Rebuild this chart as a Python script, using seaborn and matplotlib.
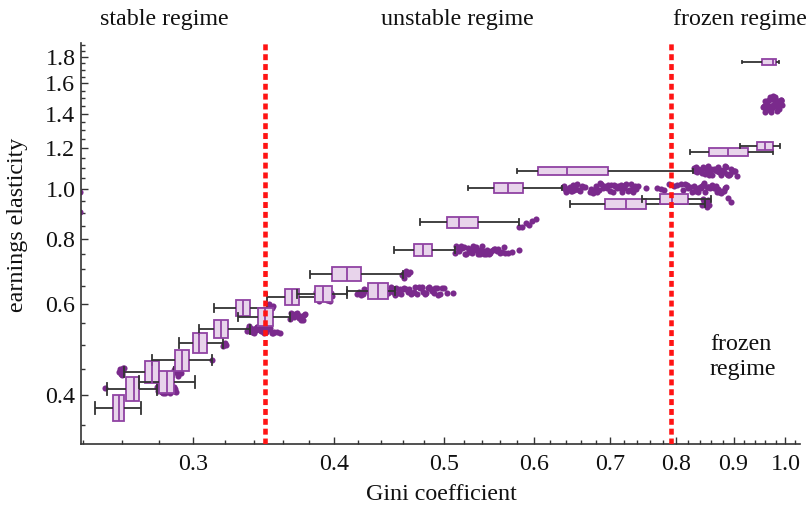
import numpy as np
import pandas as pd
import matplotlib
matplotlib.use("Agg")
import matplotlib.pyplot as plt
import seaborn as sns
from matplotlib.ticker import FixedLocator, FixedFormatter, NullFormatter

# ---------------- data ----------------
# box groups: earnings elasticity level and Gini box statistics
box_elasticity = [0.3775, 0.411, 0.443, 0.4238, 0.467, 0.504, 0.5365, 0.589, 0.566,
                  0.619, 0.627, 0.6354, 0.685, 0.7625, 0.863, 1.005, 1.084, 0.936,
                  0.957, 1.18, 1.211, 1.76]
box_whislo = [0.246, 0.252, 0.261, 0.269, 0.276, 0.2917, 0.3037, 0.3131, 0.3287,
              0.3487, 0.3706, 0.410, 0.3806, 0.4514, 0.4759, 0.5246, 0.5795, 0.6454,
              0.7471, 0.8245, 0.912, 0.9157]
box_q1 = [0.255, 0.262, 0.272, 0.280, 0.2892, 0.300, 0.3131, 0.3274, 0.3424,
          0.3617, 0.3844, 0.4282, 0.398, 0.4701, 0.5027, 0.553, 0.6047, 0.693,
          0.775, 0.8561, 0.9441, 0.9538]
box_median = [0.258, 0.266, 0.276, 0.2846, 0.2935, 0.3037, 0.3176, 0.3321, 0.3473,
              0.3669, 0.3907, 0.4369, 0.4103, 0.4788, 0.5151, 0.5689, 0.6415, 0.7233,
              0.7941, 0.8898, 0.9597, 0.9754]
box_q3 = [0.261, 0.269, 0.280, 0.289, 0.2976, 0.3087, 0.3221, 0.3369, 0.353,
          0.3721, 0.398, 0.4459, 0.4221, 0.4877, 0.5353, 0.5866, 0.6973, 0.7532,
          0.8203, 0.927, 0.9754, 0.9814]
box_whishi = [0.270, 0.279, 0.289, 0.301, 0.312, 0.3189, 0.3369, 0.3487, 0.3654,
              0.3844, 0.410, 0.452, 0.4597, 0.511, 0.5819, 0.6351, 0.8288, 0.8492,
              0.86, 0.9754, 0.9894, 0.9874]

# point clouds: elasticity level and Gini values of the points
cloud_elasticity = [0.411, 0.443, 0.467, 0.504, 0.5365, 0.589, 0.566, 0.619, 0.6354,
                    0.685, 0.7625, 0.863, 1.005, 1.084, 0.936, 0.957, 1.46, 0.987, 0.903]
cloud_gini = [
    [0.251, 0.279, 0.2795, 0.280, 0.2806, 0.281, 0.2815, 0.282, 0.2826, 0.283, 0.2835,
     0.284, 0.2846, 0.285, 0.2855, 0.286, 0.2866, 0.287, 0.2875, 0.288, 0.2886, 0.289,
     0.2895, 0.290],
    [0.258, 0.2585, 0.259, 0.2595, 0.260, 0.2605, 0.261, 0.289, 0.2895, 0.290, 0.2905,
     0.291, 0.2915, 0.292, 0.293],
    [0.312],
    [0.319, 0.3195, 0.320, 0.321],
    [0.335, 0.3355, 0.336, 0.3366, 0.337, 0.3375, 0.338, 0.3386, 0.339, 0.3396, 0.340,
     0.3406, 0.341, 0.3415, 0.342, 0.3426, 0.343, 0.3435, 0.344, 0.3446, 0.345, 0.3455,
     0.346, 0.3466, 0.347, 0.3476, 0.348, 0.3487, 0.349, 0.3497, 0.350, 0.351, 0.352,
     0.353, 0.354, 0.356, 0.358],
    [0.349, 0.3495, 0.350, 0.3505, 0.351, 0.352, 0.353],
    [0.3655, 0.366, 0.367, 0.368, 0.3685, 0.369, 0.370, 0.3705, 0.371, 0.372, 0.3725,
     0.373, 0.374, 0.375, 0.376, 0.377],
    [0.385, 0.386, 0.387, 0.388, 0.389, 0.390, 0.391, 0.392, 0.393, 0.394, 0.395,
     0.396, 0.397, 0.398],
    [0.419, 0.4205, 0.422, 0.4235, 0.425, 0.4265, 0.428, 0.4295, 0.431, 0.4325, 0.434,
     0.4355, 0.437, 0.4385, 0.440, 0.4415, 0.443, 0.4445, 0.446, 0.4475, 0.449, 0.4505,
     0.452, 0.4535, 0.455, 0.4565, 0.458, 0.4595, 0.461, 0.4625, 0.464, 0.4655, 0.467,
     0.4685, 0.470, 0.4715, 0.473, 0.4745, 0.476, 0.4775, 0.479, 0.4805, 0.482, 0.4835,
     0.485, 0.4865, 0.488, 0.4895, 0.491, 0.4925, 0.494, 0.496, 0.498, 0.500, 0.503,
     0.509],
    [0.459, 0.460, 0.461, 0.463, 0.464, 0.466],
    [0.511, 0.5125, 0.514, 0.5155, 0.517, 0.5185, 0.520, 0.5215, 0.523, 0.5245, 0.526,
     0.5275, 0.529, 0.5305, 0.532, 0.5335, 0.535, 0.5365, 0.538, 0.5395, 0.541, 0.5425,
     0.544, 0.5455, 0.547, 0.5485, 0.550, 0.5515, 0.553, 0.5545, 0.556, 0.558, 0.560,
     0.562, 0.564, 0.566, 0.569, 0.574, 0.582],
    [0.582, 0.586, 0.590, 0.594, 0.598, 0.603],
    [0.636, 0.6375, 0.639, 0.6405, 0.642, 0.6435, 0.645, 0.6465, 0.648, 0.6495, 0.651,
     0.653, 0.655, 0.657, 0.659, 0.661, 0.663, 0.666,
     0.672, 0.674, 0.676, 0.678, 0.680, 0.682, 0.684, 0.686, 0.688, 0.690, 0.692, 0.694,
     0.696, 0.698, 0.700, 0.702, 0.704, 0.706, 0.708, 0.710, 0.712, 0.714, 0.716, 0.718,
     0.720, 0.722, 0.724, 0.726, 0.728, 0.730, 0.732, 0.734, 0.736, 0.738, 0.741,
     0.754, 0.770, 0.777, 0.782, 0.790, 0.797, 0.803, 0.808, 0.812, 0.815, 0.818, 0.821,
     0.824, 0.827, 0.830, 0.832, 0.834, 0.836, 0.838, 0.840, 0.842, 0.844, 0.846, 0.848,
     0.850, 0.852, 0.854, 0.856, 0.858, 0.860, 0.862, 0.864, 0.866, 0.868, 0.870, 0.872,
     0.874, 0.876, 0.878, 0.880, 0.882, 0.884, 0.886],
    [0.830, 0.832, 0.834, 0.836, 0.838, 0.840, 0.842, 0.844, 0.846, 0.848, 0.850, 0.852,
     0.854, 0.856, 0.858, 0.860, 0.862, 0.864, 0.866, 0.868, 0.870, 0.872, 0.874, 0.876,
     0.878, 0.880, 0.882, 0.884, 0.886, 0.888, 0.890, 0.892, 0.894, 0.896, 0.898, 0.900,
     0.903, 0.906],
    [0.844, 0.846, 0.848, 0.850, 0.852, 0.854, 0.856],
    [0.889, 0.895],
    [0.956, 0.957, 0.958, 0.959, 0.960, 0.961, 0.962, 0.963, 0.964, 0.965, 0.966, 0.967,
     0.968, 0.969, 0.970, 0.971, 0.972, 0.973, 0.974, 0.975, 0.976, 0.977, 0.978, 0.979,
     0.980, 0.981, 0.982, 0.983, 0.984, 0.985, 0.986, 0.987, 0.988, 0.989, 0.990, 0.991,
     0.992, 0.993],
    [0.2385],
    [0.2385],
]
cloud_jitter = [0.009] * 16 + [0.016, 0.0, 0.0]

regime_bounds = [0.347, 0.792]

x_ticks = [0.3, 0.4, 0.5, 0.6, 0.7, 0.8, 0.9, 1.0]
x_tick_labels = ["0.3", "0.4", "0.5", "0.6", "0.7", "0.8", "0.9", "1.0"]
y_ticks = [0.4, 0.6, 0.8, 1.0, 1.2, 1.4, 1.6, 1.8]
y_tick_labels = ["0.4", "0.6", "0.8", "1.0", "1.2", "1.4", "1.6", "1.8"]
x_minor = [round(0.24 + 0.02 * i, 2) for i in range(40)]
y_minor = [round(0.35 + 0.05 * i, 2) for i in range(32)]

# ---------------- style ----------------
np.random.seed(3)
plt.rcParams["font.family"] = ["Liberation Serif", "DejaVu Serif"]
FS = 17.3
point_color = "#7A2A8C"
box_face = "#E8D4EB"
box_edge = "#9042A3"
whisker_color = "#333333"
box_height = 0.043  # linear elasticity units

fig = plt.figure(figsize=(8.07, 5.08), dpi=100)
ax = fig.add_axes([81 / 807, 64 / 508, 719 / 807, 401 / 508])

# point clouds (drawn under the boxes)
for yv, xs, jit in zip(cloud_elasticity, cloud_gini, cloud_jitter):
    df = pd.DataFrame({"gini": xs, "elasticity": [yv] * len(xs)})
    sns.stripplot(data=df, x="gini", y="elasticity", orient="h", native_scale=True,
                  log_scale=(True, True), jitter=jit if jit > 0 else False,
                  size=4.4, color=point_color, linewidth=0, ax=ax, zorder=2)

# boxes
for yv, lo, q1, md, q3, hi in zip(box_elasticity, box_whislo, box_q1, box_median,
                                  box_q3, box_whishi):
    df = pd.DataFrame({"gini": [lo, q1, md, q3, hi], "elasticity": [yv] * 5})
    w = np.log10((yv + box_height / 2) / (yv - box_height / 2))
    sns.boxplot(data=df, x="gini", y="elasticity", orient="h", native_scale=True,
                log_scale=(True, True), whis=(0, 100), width=w, color=box_face,
                saturation=1, linecolor=box_edge, linewidth=1.3,
                whiskerprops=dict(color=whisker_color, linewidth=1.3),
                capprops=dict(color=whisker_color, linewidth=1.3),
                medianprops=dict(color=box_edge, linewidth=1.3),
                showfliers=False, ax=ax, zorder=3)

for xb in regime_bounds:
    ax.axvline(xb, color="#FF1414", lw=3.3, ls=(0, (1.3, 0.85)), zorder=5)

ax.set_xlim(0.239, 1.03)
ax.set_ylim(0.3216, 1.916)

ax.xaxis.set_major_locator(FixedLocator(x_ticks))
ax.xaxis.set_major_formatter(FixedFormatter(x_tick_labels))
ax.xaxis.set_minor_locator(FixedLocator(x_minor))
ax.xaxis.set_minor_formatter(NullFormatter())
ax.yaxis.set_major_locator(FixedLocator(y_ticks))
ax.yaxis.set_major_formatter(FixedFormatter(y_tick_labels))
ax.yaxis.set_minor_locator(FixedLocator(y_minor))
ax.yaxis.set_minor_formatter(NullFormatter())

for s in ["top", "right"]:
    ax.spines[s].set_visible(False)
for s in ["left", "bottom"]:
    ax.spines[s].set_color("#333333")
    ax.spines[s].set_linewidth(1.2)
ax.tick_params(which="both", direction="in", color="#333333", width=1.0,
               labelsize=FS, labelcolor="#111111")
ax.tick_params(axis="x", which="both", pad=7)
ax.tick_params(axis="y", which="both", pad=4)
ax.tick_params(which="major", length=5)
ax.tick_params(which="minor", length=3)
ax.set_xlabel("")
ax.set_ylabel("")
ax.grid(False)

fig.text(441 / 807, 1 - 494 / 508, "Gini coefficient", ha="center", va="center",
         fontsize=FS, color="#111111")
fig.text(18 / 807, 1 - 225 / 508, "earnings elasticity", ha="center", va="center",
         rotation=90, fontsize=FS, color="#111111")
fig.text(164 / 807, 1 - 20 / 508, "stable regime", ha="center", va="center",
         fontsize=FS, color="#111111")
fig.text(457 / 807, 1 - 20 / 508, "unstable regime", ha="center", va="center",
         fontsize=FS, color="#111111")
fig.text(673 / 807, 1 - 20 / 508, "frozen regime", ha="left", va="center",
         fontsize=FS, color="#111111")
fig.text(710 / 807, 1 - 357 / 508, "frozen\nregime", ha="left", va="center",
         fontsize=FS, color="#111111", linespacing=1.2)

fig.savefig("out.png", dpi=100)
